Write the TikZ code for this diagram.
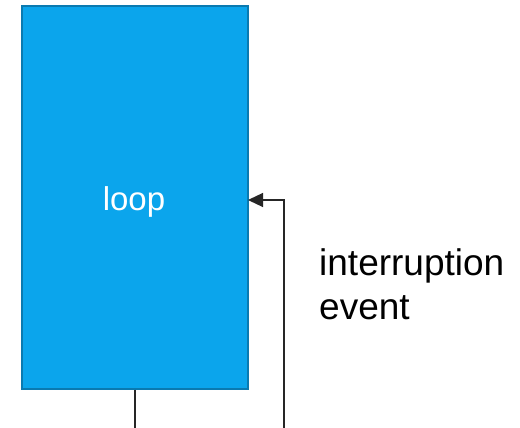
\documentclass[tikz,border=0pt]{standalone}
\usepackage{fontspec}
\setmainfont{Liberation Sans}
\usetikzlibrary{arrows.meta}
\definecolor{boxfill}{RGB}{11,165,236}
\definecolor{boxline}{RGB}{10,122,176}
\begin{document}
\begin{tikzpicture}[x=1pt,y=-1pt,
  loopbox/.style={draw=boxline,fill=boxfill,line width=2pt,minimum width=226pt,minimum height=382pt,inner sep=0pt},
  conn/.style={draw=black!85,line width=1.2pt},
  lbl/.style={font=\fontsize{37}{44}\selectfont,align=left,anchor=north west,inner sep=0pt}]
\useasboundingbox[fill=white] (0,0) rectangle (520,428);
\node[loopbox] (loop) at (134.5,197.5) {};
\node[text=white,font=\fontsize{33}{40}\selectfont] (looptxt) at (134,202) {loop};
\coordinate (bot1) at (135,428);
\coordinate (bot2) at (284,428);
\coordinate (tgt) at (248,200);
\draw[conn] (loop.south -| bot1) -- (bot1);
\draw[conn,-{Triangle[length=15pt,width=14pt]}] (bot2) |- (tgt);
\node[lbl] (ev) at (319,248) {interruption\\event};
\end{tikzpicture}
\end{document}
